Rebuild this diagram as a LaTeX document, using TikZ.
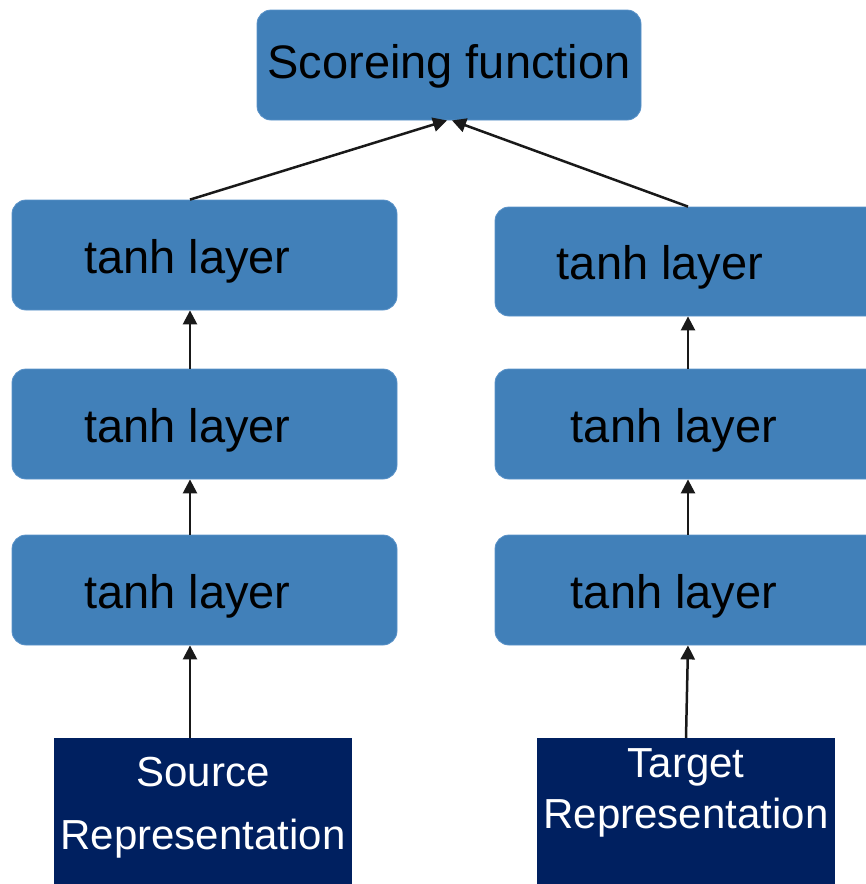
\documentclass[tikz,border=0pt]{standalone}
\usepackage{fontspec}
\setmainfont{Liberation Sans}
\usetikzlibrary{arrows.meta}
\definecolor{layerblue}{RGB}{65,128,185}
\definecolor{layeredge}{RGB}{90,146,200}
\definecolor{inputnavy}{RGB}{0,32,96}
\begin{document}
\begin{tikzpicture}[x=1pt,y=-1pt,
  layerbox/.style={rectangle, rounded corners=14pt, fill=layerblue, draw=layeredge,
    line width=0.8pt, minimum width=385pt, minimum height=110pt, inner sep=0pt,
    text height=46pt, text depth=10pt,
    font=\fontsize{47}{56}\selectfont, text=black},
  inputbox/.style={rectangle, fill=inputnavy, minimum width=298pt, minimum height=150pt,
    inner sep=0pt},
  inputtext/.style={text=white, align=center, inner sep=0pt, anchor=north},
  link/.style={line width=2.5pt, draw=black!90, -{Triangle[length=14pt,width=14pt]}}]
\useasboundingbox (0,0) rectangle (866,884);
\clip (0,0) rectangle (866,884);

% scoring node on top
\node[layerbox, minimum width=384pt, text height=36pt] (score) at (449,65) {Scoreing function};

% left tower (source side)
\node[layerbox] (L3) at (204.5,255) {\hspace*{-34pt}tanh layer};
\node[layerbox] (L2) at (204.5,424) {\hspace*{-34pt}tanh layer};
\node[layerbox] (L1) at (204.5,590) {\hspace*{-34pt}tanh layer};

% right tower (target side)
\node[layerbox, minimum height=109pt] (R3) at (687.5,261.5) {\hspace*{-55pt}tanh layer};
\node[layerbox] (R2) at (687.5,424) {\hspace*{-27pt}tanh layer};
\node[layerbox] (R1) at (687.5,590) {\hspace*{-27pt}tanh layer};

% input representations
\node[inputbox] (src) at (203,813) {};
\node[inputbox] (tgt) at (686,813) {};
\node[inputtext, font=\fontsize{42}{63}\selectfont] (srctext) at (203,757) {Source\\Representation};
\node[inputtext, font=\fontsize{42}{51}\selectfont] (tgttext) at (686,748) {Target\\Representation};

% connectors
\draw[link] ([xshift=-14.5pt]L3.north) -- ([xshift=-2pt]score.south);
\draw[link] ([xshift=0.5pt]R3.north) -- ([xshift=3pt]score.south);
\draw[link] ([xshift=-14.5pt]L2.north) -- ([xshift=-14.5pt]L3.south);
\draw[link] ([xshift=-14.5pt]L1.north) -- ([xshift=-14.5pt]L2.south);
\draw[link] ([xshift=-13pt]src.north) -- ([xshift=-14.5pt]L1.south);
\draw[link] ([xshift=0.5pt]R2.north) -- ([xshift=0.5pt]R3.south);
\draw[link] ([xshift=0.5pt]R1.north) -- ([xshift=0.5pt]R2.south);
\draw[link] (tgt.north) -- ([xshift=0.5pt]R1.south);
\end{tikzpicture}
\end{document}
